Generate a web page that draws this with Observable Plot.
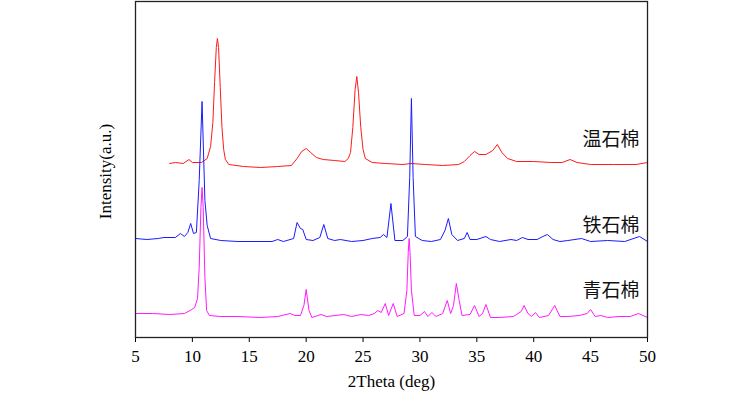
<!DOCTYPE html>
<html>
<head>
<meta charset="utf-8">
<script src="https://cdn.jsdelivr.net/npm/d3@7"></script>
<script src="https://cdn.jsdelivr.net/npm/@observablehq/plot@0.6"></script>
<style>
  html, body { margin: 0; padding: 0; background: #fff; }
</style>
</head>
<body>
<div id="chart"></div>
<script>
// 温石棉 (red)
const redX = [8.0,8.5,9.2,9.7,10.0,10.8,11.3,11.6,11.8,11.95,12.1,12.2,12.3,12.45,12.6,12.75,12.9,13.2,14.5,16,17.5,18.7,19.2,19.6,20.0,20.4,20.9,21.5,22.5,23.4,23.7,23.9,24.1,24.3,24.45,24.6,24.8,25.0,25.2,25.8,27,28.5,29.2,30.5,32,33.4,33.9,34.4,34.8,35.2,35.8,36.4,36.8,37.2,37.7,38.5,40,41.5,42.5,43.2,43.8,45,47,49,50];
const redY = [174,175,174,178,175,175,179,191,215,255,290,299,290,250,210,188,178,173,171,170,171,172,179,186,189,185,180,178,177,176,179,185,210,248,261,245,210,188,179,175,174,173,174,173,172,173,176,182,186,183,183,187,193,185,179,176,176,175,175,178,175,173,173,173,175];

// 铁石棉 (blue)
const blueX = [5.0,6,7,7.5,8.5,8.95,9.3,9.6,9.85,10.1,10.35,10.6,10.85,11.1,11.3,11.6,12.5,14,15.5,17,17.5,18,18.9,19.2,19.5,19.7,20.0,20.6,21.2,21.55,21.9,22.5,23,24,25,25.8,26.5,26.8,27.1,27.45,27.8,28.5,28.9,29.1,29.25,29.4,29.6,30.2,31,31.8,32.2,32.5,32.8,33.3,33.9,34.15,34.4,35,35.8,36.2,37,38,38.5,39,39.5,40.3,40.8,41.2,41.7,42.3,43,44.2,45,46.5,48,49.3,50];
const blueY = [99,98,99,100,100,104,101,105,114,104,105,157,236,137,112,99,97,96,96,96,98,96,99,115,109,108,98,97,100,113,99,97,98,96,97,99,100,103,100,134,97,97,101,160,239,160,101,97,96,98,107,119,103,97,99,105,98,98,101,98,96,98,97,100,98,98,101,103,98,96,97,99,96,97,96,101,96];

// 青石棉 (magenta)
const pinkX = [5.0,6.5,8,9.3,9.8,10.2,10.45,10.6,10.75,10.85,10.95,11.1,11.25,11.5,12.5,14,16,17.5,18.6,19.0,19.5,19.8,20.0,20.25,20.5,21.3,21.8,23.3,24.0,24.8,25.5,26.0,26.3,26.6,26.95,27.25,27.65,28.0,28.6,28.85,28.97,29.05,29.13,29.25,29.5,30.0,30.4,30.7,31.05,31.4,32.0,32.4,32.7,32.95,33.2,33.45,33.7,34.4,34.8,35.2,35.5,35.8,36.2,37,38.2,38.5,38.9,39.15,39.5,39.8,40.15,40.5,41.3,41.85,42.3,43,44,44.7,45.0,45.4,45.9,46.5,47.5,48.5,49.2,50];
const pinkY = [24,24,23,24,27,30,39,70,130,150,130,60,27,22,21,21,20,21,24,22,22,32,48,27,20,23,21,23,21,23,22,24,27,25,34,22,34,21,24,47,85,99,85,47,22,22,26,21,25,21,24,37,24,32,54,37,22,23,32,21,24,33,20,20,21,23,26,32,24,21,25,20,22,32,21,21,22,24,28,21,22,20,21,21,24,20];

const seriesNames = ["温石棉", "铁石棉", "青石棉"];
const seriesColors = ["#ff1a1a", "#1a1aff", "#ff1aff"];
const labelX = [49.3, 49.3, 49.3];
const labelY = [198, 112, 47];

const xTicks = [5, 10, 15, 20, 25, 30, 35, 40, 45, 50];
const xTitle = "2Theta (deg)";
const yTitle = "Intensity(a.u.)";

const toRows = (xs, ys) => xs.map((x, i) => ({x, y: ys[i]}));
const series = [toRows(redX, redY), toRows(blueX, blueY), toRows(pinkX, pinkY)];
const labels = seriesNames.map((name, i) => ({name, x: labelX[i], y: labelY[i]}));
const serif = "'Liberation Serif', 'Times New Roman', serif";

const chart = Plot.plot({
  width: 756,
  height: 395,
  marginTop: 1,
  marginBottom: 58,
  marginLeft: 135,
  marginRight: 109,
  style: {fontFamily: serif, fontSize: "17px", color: "#000", background: "#fff"},
  x: {domain: [5, 50], ticks: xTicks, tickSize: 5, tickPadding: 7, tickFormat: d => String(d), label: null},
  y: {domain: [0, 336], ticks: [], label: null},
  marks: [
    ...series.map((rows, i) => Plot.line(rows, {x: "x", y: "y", stroke: seriesColors[i], strokeWidth: 1})),
    Plot.text(labels, {x: "x", y: "y", text: "name", textAnchor: "end", fontSize: 19, fontFamily: "'Noto Sans CJK SC', sans-serif", fill: "#111"}),
    Plot.text([xTitle], {frameAnchor: "bottom", dy: 49, text: d => d, textAnchor: "middle", fontSize: 17, fontFamily: serif, fill: "#000"}),
    Plot.text([yTitle], {frameAnchor: "left", dx: -30, dy: 2, rotate: -90, text: d => d, textAnchor: "middle", fontSize: 17, fontFamily: serif, fill: "#000"}),
    Plot.frame({stroke: "#222", strokeWidth: 1.3})
  ]
});
document.getElementById("chart").appendChild(chart);
</script>
</body>
</html>
